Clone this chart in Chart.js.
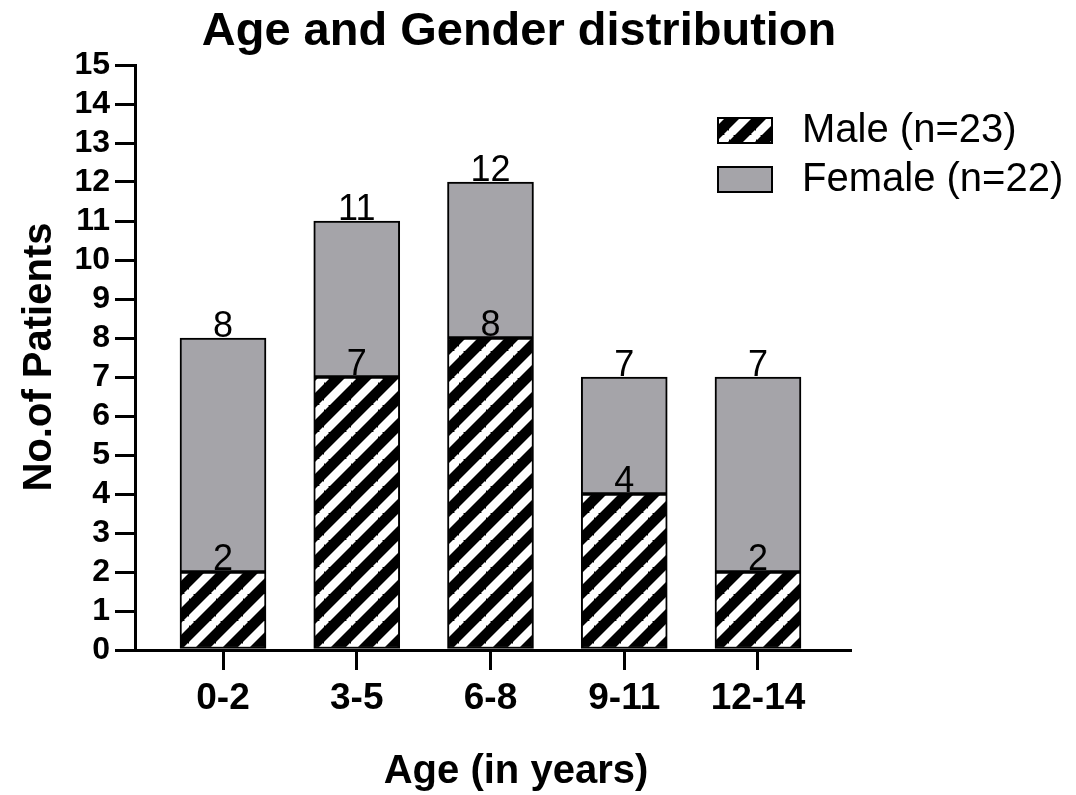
<!DOCTYPE html>
<html>
<head>
<meta charset="utf-8">
<script src="https://cdn.jsdelivr.net/npm/chart.js@4.4.0/dist/chart.umd.min.js"></script>
<style>
  body { margin: 0; background: #fff; }
  #wrap { width: 1076px; height: 795px; }
</style>
</head>
<body>
<div id="wrap"><canvas id="myChart" width="1076" height="795"></canvas></div>
<script>
// data
var ageGroups = ['0-2', '3-5', '6-8', '9-11', '12-14'];
var maleCounts = [2, 7, 8, 4, 2];
var femaleCounts = [6, 4, 4, 3, 5];
var yTicks = [0, 1, 2, 3, 4, 5, 6, 7, 8, 9, 10, 11, 12, 13, 14, 15];
var legendLabels = ['Male (n=23)', 'Female (n=22)'];

var FONT = '"Liberation Sans", Arial, Helvetica, sans-serif';
var GREY = '#a5a4a9';

// diagonal hatch for the male bars
function makeHatch() {
    var p = 27;
    var c = document.createElement('canvas');
    c.width = p; c.height = p;
    var g = c.getContext('2d');
    g.fillStyle = '#000';
    g.fillRect(0, 0, p, p);
    g.strokeStyle = '#fff';
    g.lineWidth = 8.5;
    g.beginPath();
    g.moveTo(-2, p + 2); g.lineTo(p + 2, -2);
    g.moveTo(-2, 2); g.lineTo(2, -2);
    g.moveTo(p - 2, p + 2); g.lineTo(p + 2, p - 2);
    g.stroke();
    return g.createPattern(c, 'repeat');
}
var hatch = makeHatch();

function pts(arr) {
    return arr.map(function (v, i) { return { x: i, y: v }; });
}

var textPlugin = {
    id: 'texts',
    afterDatasetsDraw: function (chart) {
        var ctx = chart.ctx;
        ctx.save();
        ctx.fillStyle = '#000';
        ctx.textAlign = 'center';
        ctx.textBaseline = 'alphabetic';
        ctx.font = '36px ' + FONT;
        var maleMeta = chart.getDatasetMeta(0);
        var femMeta = chart.getDatasetMeta(1);
        for (var i = 0; i < ageGroups.length; i++) {
            var m = maleMeta.data[i];
            var f = femMeta.data[i];
            ctx.fillText(String(maleCounts[i]), m.x, m.y - 2);
            ctx.fillText(String(maleCounts[i] + femaleCounts[i]), f.x, f.y - 1);
        }
        ctx.restore();
    },
    afterDraw: function (chart) {
        var ctx = chart.ctx;
        ctx.save();
        ctx.fillStyle = '#000';
        ctx.textAlign = 'center';
        ctx.textBaseline = 'alphabetic';
        ctx.font = 'bold 47px ' + FONT;
        ctx.fillText('Age and Gender distribution', 519, 45);
        ctx.font = 'bold 40px ' + FONT;
        ctx.fillText('Age (in years)', 516, 783);
        ctx.save();
        ctx.translate(51, 357);
        ctx.rotate(-Math.PI / 2);
        ctx.fillText('No.of Patients', 0, 0);
        ctx.restore();

        // legend
        ctx.lineWidth = 2;
        ctx.strokeStyle = '#000';
        ctx.fillStyle = hatch;
        ctx.fillRect(718, 118, 54, 25);
        ctx.strokeRect(718, 118, 54, 25);
        ctx.fillStyle = GREY;
        ctx.fillRect(718, 167, 54, 25);
        ctx.strokeRect(718, 167, 54, 25);
        ctx.fillStyle = '#000';
        ctx.textAlign = 'left';
        ctx.textBaseline = 'middle';
        ctx.font = '40px ' + FONT;
        ctx.fillText(legendLabels[0], 802, 131);
        ctx.fillText(legendLabels[1], 802, 180);
        ctx.restore();
    }
};

var ctx = document.getElementById('myChart').getContext('2d');
var chart = new Chart(ctx, {
    type: 'bar',
    data: {
        datasets: [{
            label: legendLabels[0],
            data: pts(maleCounts),
            backgroundColor: hatch,
            borderColor: '#000',
            borderWidth: 2,
            borderSkipped: false,
            barThickness: 86
        }, {
            label: legendLabels[1],
            data: pts(femaleCounts),
            backgroundColor: GREY,
            borderColor: '#000',
            borderWidth: 2,
            borderSkipped: false,
            barThickness: 86
        }]
    },
    options: {
        responsive: false,
        animation: false,
        layout: { padding: { left: 0, top: 65, right: 226, bottom: 0 } },
        plugins: {
            legend: { display: false },
            title: { display: false },
            tooltip: { enabled: false }
        },
        scales: {
            x: {
                type: 'linear',
                stacked: true,
                offset: false,
                min: -0.658,
                max: 4.688,
                afterBuildTicks: function (scale) {
                    scale.ticks = ageGroups.map(function (c, i) { return { value: i }; });
                },
                afterFit: function (scale) { scale.height = 145; },
                ticks: {
                    callback: function (v) { return ageGroups[v]; },
                    color: '#000',
                    font: { family: FONT, size: 37, weight: 'bold' },
                    padding: 7,
                    maxRotation: 0,
                    autoSkip: false
                },
                grid: { offset: false, drawOnChartArea: false, color: '#000', lineWidth: 3, tickLength: 20 },
                border: { color: '#000', width: 3 }
            },
            y: {
                stacked: true,
                min: 0,
                max: 15,
                afterBuildTicks: function (scale) {
                    scale.ticks = yTicks.map(function (v) { return { value: v }; });
                },
                afterFit: function (scale) { scale.width = 135; },
                ticks: {
                    color: '#000',
                    font: { family: FONT, size: 32, weight: 'bold' },
                    padding: 5,
                    autoSkip: false
                },
                grid: { drawOnChartArea: false, color: '#000', lineWidth: 3, tickLength: 20 },
                border: { color: '#000', width: 3 }
            }
        }
    },
    plugins: [textPlugin]
});
</script>
</body>
</html>
